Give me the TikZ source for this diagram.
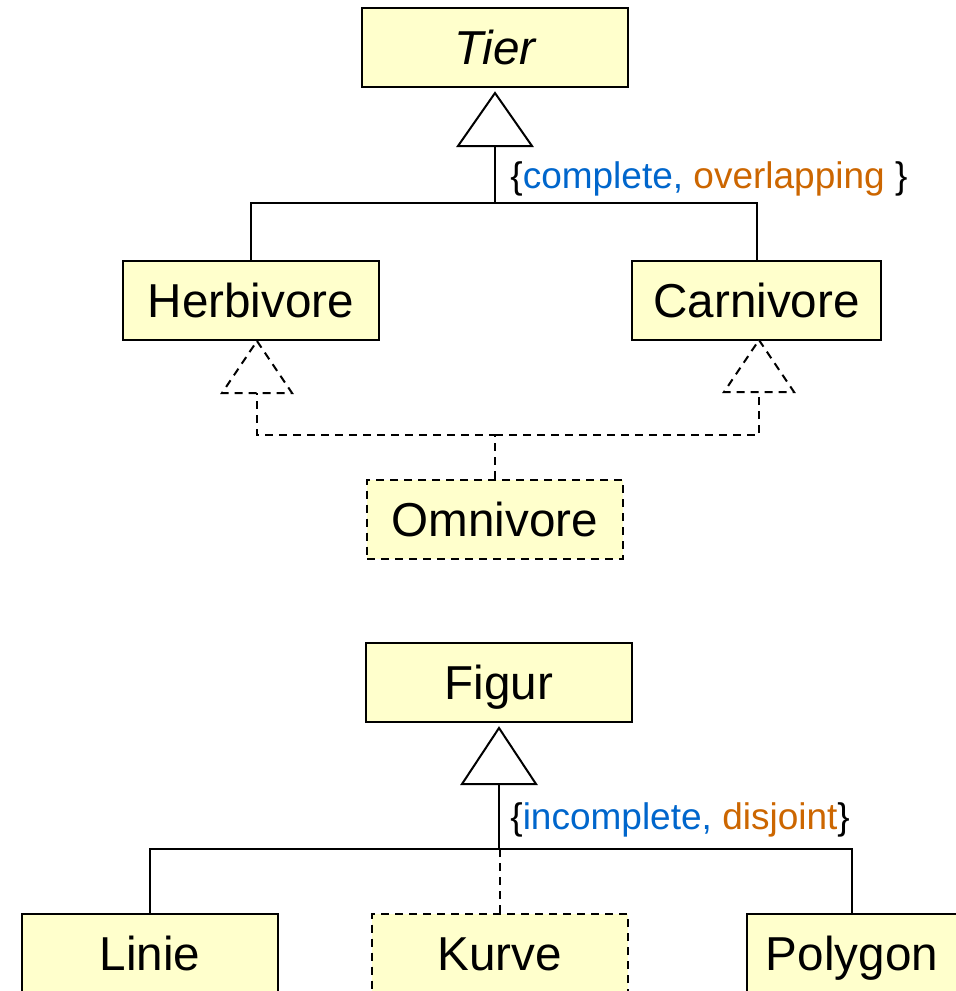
\documentclass[tikz,border=0pt]{standalone}
\usepackage{fontspec}
\setmainfont{Liberation Sans}
\definecolor{classfill}{RGB}{255,255,204}
\definecolor{umlblue}{RGB}{0,102,204}
\definecolor{umlorange}{RGB}{204,102,0}
\begin{document}
\begin{tikzpicture}[x=0.5pt,y=-0.5pt,
  cls/.style={draw=black, line width=1pt, fill=classfill, inner sep=0pt,
    minimum height=39.5pt, text height=17pt, text depth=0pt,
    font=\fontsize{23.8}{28}\selectfont},
  optcls/.style={cls, dash pattern=on 4pt off 3pt},
  link/.style={line width=1pt},
  optlink/.style={link, dash pattern=on 4pt off 3pt},
  gen/.style={draw=black, line width=1pt, fill=white, line join=miter},
  constraint/.style={font=\fontsize{18.5}{22}\selectfont, anchor=west, inner sep=0pt}]

\useasboundingbox (0,0) rectangle (956,991);

% ---------- Tier hierarchy ----------
\node[cls, minimum width=133pt, font=\fontsize{23.8}{28}\selectfont\itshape] (tier) at (495,47.5) {Tier};
\node[cls, minimum width=128pt] (herb) at (251,300.5) {Herbivore};
\node[cls, minimum width=124.5pt] (carn) at (756.5,300.5) {Carnivore};
\node[optcls, minimum width=128pt] (omni) at (495,519) {Omnivore};

% generalization triangle below Tier
\coordinate (tierTip) at (495,93);
\coordinate (tierBase) at (495,146);
\coordinate (tierJoin) at (495,203);
\draw[gen] (tierTip) -- ++(37,53) -- ++(-74,0) -- cycle;
\draw[link] (tierBase) -- (tierJoin) -| (herb.north);
\draw[link] (tierJoin) -| (carn.north);
\node[constraint] (tierCons) at (510,178.5)
  {\{\textcolor{umlblue}{complete,} \textcolor{umlorange}{overlapping} \}};

% dashed generalizations from Omnivore
\coordinate (herbTip) at (257,341);
\coordinate (herbBase) at (257,393);
\coordinate (carnTip) at (759,340);
\coordinate (carnBase) at (759,392);
\coordinate (omniJoin) at (495,435);
\draw[gen, optlink] (herbTip) -- ++(35,52) -- ++(-70,0) -- cycle;
\draw[gen, optlink] (carnTip) -- ++(35,52) -- ++(-70,0) -- cycle;
\draw[optlink] (omni.north) -- (omniJoin) -| (herbBase);
\draw[optlink] (omniJoin) -| (carnBase);

% ---------- Figur hierarchy ----------
\node[cls, minimum width=133pt] (figur) at (499,682) {Figur};
\node[cls, minimum width=128pt] (linie) at (150,953) {Linie};
\node[optcls, minimum width=128pt] (kurve) at (499.5,953) {Kurve};
\node[cls, minimum width=105pt] (polygon) at (852,953) {Polygon};

\coordinate (figTip) at (499,728);
\coordinate (figBase) at (499,784);
\coordinate (figJoin) at (499,849);
\draw[gen] (figTip) -- ++(37,56) -- ++(-74,0) -- cycle;
\draw[link] (figBase) -- (figJoin);
\draw[link] (linie.north) |- (figJoin) -| (polygon.north);
\draw[optlink] (kurve.north |- figJoin) -- (kurve.north);
\node[constraint] (figCons) at (510,819.5)
  {\{\textcolor{umlblue}{incomplete,} \textcolor{umlorange}{disjoint}\}};
\end{tikzpicture}
\end{document}
